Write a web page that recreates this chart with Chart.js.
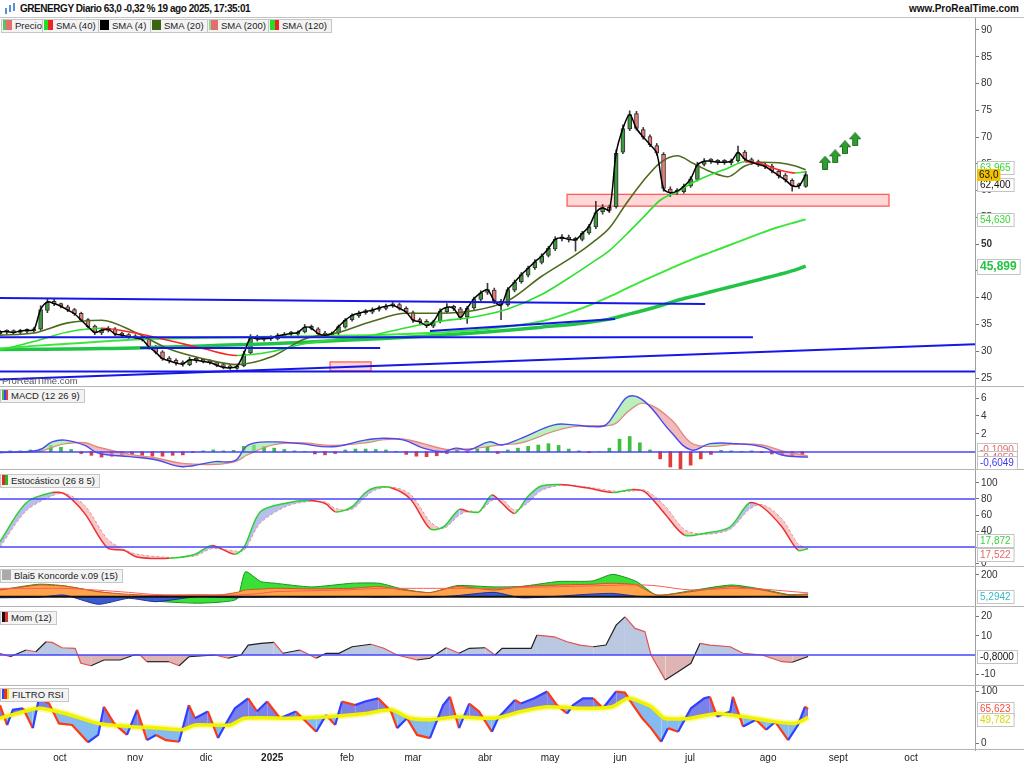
<!DOCTYPE html>
<html>
<head>
<meta charset="utf-8">
<script src="https://cdn.jsdelivr.net/npm/chart.js@4.4.1/dist/chart.umd.min.js"></script>
<style>
  body { margin: 0; background: #fff; }
  #wrap { position: relative; width: 1024px; height: 768px; overflow: hidden; font-family: "Liberation Sans", Arial, sans-serif; color: #111; background: #fff; }
  #hdr { position: absolute; left: 0; top: 0; width: 1024px; height: 17px; border-bottom: 1px solid #c4c4c4; }
  #title { position: absolute; left: 20px; top: 3px; font-size: 10px; font-weight: bold; white-space: nowrap; letter-spacing: -0.45px; }
  #site { position: absolute; right: 5px; top: 3px; font-size: 10px; font-weight: bold; }
  #c { position: absolute; left: 0; top: 18px; }
  .lg { position: absolute; height: 12px; line-height: 12px; font-size: 9.5px; border: 1px solid #c6c6c6; background: #f3f3f3; padding: 0 4px 0 1px; white-space: nowrap; color: #222; }
  .ic { display: inline-block; width: 9px; height: 10px; vertical-align: -1px; margin-right: 3px; }
  #wm { position: absolute; left: 2px; top: 375px; font-size: 9.5px; color: #555; }
</style>
</head>
<body>
<div id="wrap">
  <div id="hdr">
    <svg style="position:absolute;left:4px;top:3px" width="12" height="12">
      <rect x="1" y="5" width="2" height="6" fill="#5b8fd8"/><rect x="5" y="2" width="2" height="7" fill="#5b8fd8"/><rect x="9" y="0" width="2" height="8" fill="#5b8fd8"/>
    </svg>
    <span id="title">GRENERGY Diario 63,0 -0,32 % 19 ago 2025, 17:35:01</span>
    <span id="site">www.ProRealTime.com</span>
  </div>
  <canvas id="c" width="1024" height="750"></canvas>

  <div class="lg" style="left:1px;top:19px"><i class="ic" style="background:linear-gradient(90deg,#5cc25c 30%,#e07070 30%)"></i>Precio</div>
  <div class="lg" style="left:42px;top:19px"><i class="ic" style="background:linear-gradient(90deg,#22dd22 50%,#ee2222 50%)"></i>SMA (40)</div>
  <div class="lg" style="left:98px;top:19px"><i class="ic" style="background:#000"></i>SMA (4)</div>
  <div class="lg" style="left:150px;top:19px"><i class="ic" style="background:#3a6410"></i>SMA (20)</div>
  <div class="lg" style="left:207px;top:19px"><i class="ic" style="background:linear-gradient(90deg,#8fd88f 25%,#e07070 25%)"></i>SMA (200)</div>
  <div class="lg" style="left:268px;top:19px"><i class="ic" style="background:linear-gradient(90deg,#22dd22 50%,#ee2222 50%)"></i>SMA (120)</div>

  <div class="lg" style="left:0;top:389px"><i class="ic" style="width:6px;background:linear-gradient(90deg,#44bb44 33%,#4444ee 33%,#4444ee 66%,#dd4444 66%)"></i>MACD (12 26 9)</div>
  <div class="lg" style="left:0;top:474px"><i class="ic" style="width:6px;background:linear-gradient(90deg,#ee2222 50%,#22bb22 50%)"></i>Estocástico (26 8 5)</div>
  <div class="lg" style="left:0;top:569px"><i class="ic" style="background:#aaa"></i>Blai5 Koncorde v.09 (15)</div>
  <div class="lg" style="left:0;top:611px"><i class="ic" style="width:6px;background:linear-gradient(90deg,#111 50%,#dd3333 50%)"></i>Mom (12)</div>
  <div class="lg" style="left:0;top:688px"><i class="ic" style="width:7px;background:linear-gradient(90deg,#3344ee 33%,#ee3322 33%,#ee3322 66%,#eedd00 66%)"></i>FILTRO RSI</div>
  <div id="wm">ProRealTime.com</div>
</div>

<script>
const FONT = '"Liberation Sans", Arial, sans-serif';
Chart.defaults.font.family = FONT;

// x axis = trading day index (0 = first bar on screen, mid sept 2024)
const monthTickDays = [17.7, 39.9, 60.9, 80.4, 102.5, 122, 143.3, 162.5, 183.2, 203.8, 226.9, 247.6, 269.1];
const monthTickLabels = ['oct', 'nov', 'dic', '2025', 'feb', 'mar', 'abr', 'may', 'jun', 'jul', 'ago', 'sept', 'oct'];

// price bars, one every 2 trading days
const priceOpen = [
  33.3, 33.6, 33.8, 33.5, 33.7, 33.8, 34.1, 37.6, 39.3, 38.9,
  38.3, 37.8, 37.1, 35.9, 34.7, 33.4, 33.9, 34.2, 33.3, 33.1,
  32.8, 32.6, 32.3, 30.9, 29.9, 28.7, 28.3, 27.9, 27.5, 28.5,
  28.3, 28.0, 27.9, 27.5, 27.1, 26.8, 27.3, 29.7, 32.6, 32.2,
  32.5, 32.3, 32.8, 33.2, 33.2, 33.6, 34.6, 34.2, 33.4, 32.9,
  33.4, 34.5, 35.9, 36.6, 37.2, 37.3, 37.8, 38.0, 38.5, 38.7,
  38.0, 37.2, 35.9, 35.6, 34.7, 35.6, 37.4, 38.3, 37.9, 36.4,
  38.1, 39.7, 41.0, 41.4, 39.3, 38.7, 41.4, 43.0, 44.2, 45.6,
  46.6, 47.9, 49.1, 51.0, 51.3, 50.7, 50.9, 52.1, 53.2, 56.0,
  56.9, 57.0, 67.2, 71.5, 74.4, 71.4, 70.1, 68.4, 66.8, 60.3,
  59.7, 59.8, 60.9, 62.1, 64.9, 65.6, 65.4, 65.4, 65.2, 65.6,
  67.2, 65.8, 65.4, 64.8, 64.6, 63.6, 62.9, 61.9, 61.0, 60.8
];
const priceHigh = [
  33.9, 34.0, 34.0, 34.1, 34.2, 34.4, 38.5, 39.8, 39.7, 39.0,
  38.6, 38.0, 37.3, 36.1, 34.9, 34.3, 34.6, 34.4, 33.6, 33.3,
  33.1, 32.9, 32.5, 31.1, 30.1, 29.0, 28.6, 28.2, 28.9, 28.9,
  28.6, 28.4, 28.1, 27.7, 27.4, 27.6, 30.0, 33.1, 33.0, 32.8,
  32.9, 33.3, 33.5, 33.7, 33.8, 35.0, 34.9, 34.4, 33.7, 33.6,
  34.9, 36.1, 37.0, 37.5, 37.8, 38.1, 38.5, 38.8, 39.1, 39.0,
  38.3, 37.5, 36.2, 35.9, 35.8, 37.9, 38.9, 38.6, 38.2, 38.4,
  40.1, 41.3, 42.7, 41.8, 39.7, 41.9, 43.3, 44.7, 45.9, 47.1,
  48.2, 49.6, 51.4, 51.8, 51.7, 51.3, 52.4, 53.7, 58.0, 57.4,
  57.3, 67.6, 72.3, 74.9, 74.8, 71.8, 70.4, 68.8, 67.1, 60.7,
  60.4, 61.2, 62.6, 65.3, 66.0, 66.0, 65.8, 65.8, 65.9, 68.3,
  67.5, 66.1, 65.7, 65.2, 64.9, 63.9, 63.2, 62.2, 61.4, 63.6
];
const priceLow = [
  33.0, 33.2, 33.2, 33.2, 33.4, 33.5, 33.9, 37.2, 38.5, 38.1,
  37.4, 36.7, 35.5, 34.3, 33.1, 33.1, 33.6, 32.9, 32.7, 32.4,
  32.2, 31.9, 30.4, 29.5, 28.3, 27.8, 27.4, 27.2, 27.3, 27.9,
  27.8, 27.6, 27.1, 26.7, 26.6, 26.6, 27.1, 29.4, 31.9, 31.9,
  32.0, 32.1, 32.5, 32.9, 32.9, 33.4, 34.0, 33.0, 32.7, 32.6,
  33.1, 34.3, 35.6, 36.3, 36.9, 37.0, 37.5, 37.7, 38.2, 37.7,
  37.0, 35.4, 35.1, 34.4, 34.4, 35.3, 37.1, 37.6, 35.9, 35.2,
  37.8, 39.4, 40.6, 38.9, 35.9, 38.4, 41.1, 42.7, 43.9, 45.3,
  46.3, 47.6, 48.8, 50.6, 50.4, 48.7, 50.6, 51.8, 52.9, 55.6,
  55.9, 56.7, 66.9, 71.2, 71.3, 69.6, 68.2, 66.6, 59.9, 58.9,
  59.3, 59.5, 60.6, 61.8, 64.6, 65.1, 64.9, 64.9, 64.8, 65.3,
  65.6, 64.9, 64.5, 64.1, 63.3, 62.3, 61.6, 59.9, 60.4, 60.6
];
const priceClose = [
  33.6, 33.7, 33.5, 33.8, 33.9, 34.0, 37.8, 39.2, 38.9, 38.4,
  37.7, 37.0, 35.8, 34.6, 33.5, 33.9, 34.1, 33.2, 33.0, 32.7,
  32.5, 32.2, 30.8, 29.8, 28.6, 28.2, 27.8, 27.6, 28.4, 28.3,
  28.1, 27.9, 27.4, 27.0, 26.9, 27.2, 29.5, 32.5, 32.3, 32.4,
  32.4, 32.9, 33.1, 33.3, 33.5, 34.5, 34.3, 33.3, 33.0, 33.3,
  34.6, 35.8, 36.7, 37.1, 37.4, 37.7, 38.1, 38.4, 38.6, 38.0,
  37.3, 35.8, 35.5, 34.8, 35.5, 37.5, 38.2, 38.0, 36.3, 38.0,
  39.8, 40.9, 41.5, 39.4, 38.6, 41.5, 42.9, 44.3, 45.5, 46.7,
  47.8, 49.2, 50.9, 51.2, 50.9, 50.8, 52.0, 53.3, 55.9, 56.8,
  56.3, 67.0, 71.6, 74.2, 71.6, 70.0, 68.6, 67.0, 60.4, 59.6,
  59.9, 60.8, 62.2, 64.8, 65.5, 65.5, 65.3, 65.3, 65.5, 67.1,
  65.9, 65.3, 64.9, 64.5, 63.7, 62.8, 62.0, 60.9, 60.9, 63.0
];
const priceDays = priceClose.map((_, i) => i * 2);

// moving averages read at these days
const maDays = [0, 10, 20, 30, 40, 50, 60, 70, 80, 90, 100, 110, 120, 130, 140, 150, 160, 170, 175, 180, 185, 190, 195, 200, 205, 210, 215, 220, 225, 230, 235, 238];
const sma20 = [33.0, 33.4, 35.3, 35.8, 33.5, 30.4, 28.6, 27.5, 28.9, 32.3, 33.5, 35.6, 37.1, 37.1, 37.6, 39.4, 44.0, 48.0, 50.3, 53.0, 57.6, 61.8, 65.2, 66.5, 65.0, 63.5, 62.6, 64.6, 65.3, 65.2, 64.6, 63.9];
const sma40 = [30.2, 31.8, 33.6, 34.3, 33.4, 32.0, 30.5, 29.2, 29.9, 31.4, 32.3, 33.0, 34.4, 35.6, 36.4, 37.9, 40.6, 44.5, 46.6, 48.8, 51.8, 55.0, 58.2, 59.8, 61.6, 63.0, 64.2, 65.4, 65.0, 63.9, 63.3, 63.5];
const sma120 = [30.5, 31.0, 31.4, 31.8, 32.2, 32.4, 32.5, 32.6, 32.7, 32.8, 32.9, 33.0, 33.2, 33.5, 33.9, 34.6, 35.6, 37.6, 38.8, 40.2, 41.7, 43.2, 44.6, 46.0, 47.3, 48.5, 49.7, 50.9, 52.1, 53.2, 54.1, 54.63];
const sma200 = [30.3, 30.35, 30.4, 30.5, 30.6, 30.8, 31.0, 31.2, 31.4, 31.7, 32.0, 32.3, 32.6, 33.0, 33.4, 33.9, 34.5, 35.1, 35.5, 36.0, 36.8, 37.6, 38.5, 39.5, 40.3, 41.1, 41.9, 42.7, 43.5, 44.3, 45.2, 45.9];

// drawn trend lines, support zones and arrows
const trendStartDay = [0, 0, 41.4, 0, 0, 127];
const trendStartPrice = [39.95, 32.6, 30.6, 26.2, 24.7, 33.8];
const trendEndDay = [208.3, 222.4, 112.3, 288, 288, 181.7];
const trendEndPrice = [38.8, 32.6, 30.6, 26.2, 31.3, 36.0];
const zoneStartDay = [97.5, 167.5];
const zoneEndDay = [109.6, 262.6];
const zoneHigh = [28.0, 59.3];
const zoneLow = [26.3, 57.1];
const arrowDays = [243.7, 246.7, 249.6, 252.6];
const arrowPrices = [65.2, 66.4, 68.1, 69.6];

// MACD (12 26 9)
const macdDays = [0, 11.5, 15.4, 19.2, 25.1, 29, 38.4, 46, 53.8, 63.5, 69.4, 73.3, 80.9, 88.6, 98.1, 107.8, 113.4, 119.3, 125, 130.9, 134.7, 138.6, 144.5, 148.3, 153.9, 163.7, 169.3, 175.2, 179, 182, 185.8, 190.5, 198.2, 204.1, 209.7, 217.4, 225.1, 231, 238.7];
const macdLine = [-0.1, 0.2, 1.1, 1.3, 0.7, -0.15, -0.55, -0.9, -1.67, -1.1, -1.0, 0.75, 1.1, 0.9, 0.55, 1.3, 1.5, 1.3, 0.4, 0.0, 0.4, 0.2, 1.1, 0.75, 1.5, 3.0, 3.0, 2.8, 3.0, 4.5, 6.2, 5.6, 2.2, 0.2, 0.9, 0.9, 0.55, -0.37, -0.6];
const macdSignal = [-0.1, 0.05, 0.5, 0.9, 1.0, 0.5, -0.3, -0.7, -1.3, -1.4, -1.1, -0.3, 0.8, 1.0, 0.7, 1.0, 1.35, 1.4, 0.9, 0.3, 0.25, 0.3, 0.6, 0.8, 1.0, 2.3, 2.8, 2.9, 2.9, 3.2, 4.6, 5.4, 3.6, 1.0, 0.6, 0.85, 0.75, 0.1, -0.49];
const macdHist = [
  0.05, 0.1, 0.1, 0.2, 0.3, 0.7, 0.5, 0.25, -0.2, -0.4,
  -0.6, -0.5, -0.35, -0.3, -0.4, -0.5, -0.5, -0.4, -0.35, -0.1,
  0.1, 0.2, 0.1, 0.15, 0.6, 0.75, 0.6, 0.4, 0.25, 0.1,
  0.05, -0.25, -0.35, -0.2, 0.2, 0.3, 0.3, 0.25, 0.2, 0.05,
  -0.3, -0.5, -0.55, -0.45, -0.2, 0.15, -0.1, 0.3, 0.5, -0.2,
  0.2, 0.4, 0.6, 0.75, 0.9, 0.7, 0.3, 0.1, -0.1, 0.0,
  0.4, 1.4, 1.7, 1.0, 0.2, -0.8, -1.7, -1.9, -1.5, -0.8,
  -0.3, 0.15, 0.1, 0.05, 0.1, -0.1, -0.25, -0.35, -0.45, -0.3
];
const histDays = macdHist.map((_, i) => i * 3);

// Estocástico (26 8 5)
const stochDays = [0, 7.7, 15.4, 19.2, 25, 31.7, 36.6, 40.4, 50, 57.7, 62.6, 69.2, 72.1, 76.9, 84.7, 91.4, 96.2, 99.1, 103.9, 107.8, 110.7, 115.5, 121.2, 127, 130.9, 135.7, 138.6, 141.5, 145.3, 148.2, 152, 155.9, 159.7, 165.5, 173.2, 180.9, 186.7, 190.5, 196.3, 202.1, 207.9, 215.6, 221.3, 225.2, 231, 235.7, 238.7];
const stochK = [26.6, 75, 88, 86, 62, 19, 16, 7.5, 6, 11, 22, 11, 20, 64, 75, 78, 74, 64, 70, 87.5, 94, 94, 80, 43, 45, 67, 64, 64, 85, 75, 62, 83, 96, 98, 94, 88, 92, 89, 62, 35, 37, 45, 75, 70, 45, 16, 17.9];
const stochD = [20, 65, 84, 87, 72, 30, 17, 11, 7, 9, 18, 15, 16, 50, 71, 77, 76, 68, 67, 82, 91, 95, 86, 52, 43, 60, 65, 64, 78, 80, 66, 75, 90, 97, 95, 90, 90, 91, 72, 42, 36, 42, 67, 73, 55, 24, 17.5];

// Blai5 Koncorde v.09 (15)
const koncDays = [0, 11.5, 19, 29, 38, 46, 58, 65, 70, 72.5, 77, 81, 92, 104, 112, 119, 127, 135, 146, 154, 165, 175, 181, 188, 194, 204, 216, 225, 233, 238.7];
const koncGreen = [62, 115, 100, 46, 10, -40, -60, -50, -20, 230, 140, 125, 90, 124, 124, 70, 38, 102, 90, 95, 140, 145, 206, 140, 15, 55, 108, 70, 20, 25];
const koncOrange = [62, 108, 98, 46, 22, 11, 17, 17, 40, 62, 70, 78, 72, 78, 93, 62, 38, 93, 62, 93, 108, 115, 124, 108, 15, 46, 93, 62, 15, 22];
const koncBlue = [-10, -5, 15, -70, -15, -46, 0, -5, -10, -5, -5, 0, -5, 0, -5, 0, -5, 10, 40, -10, 5, 25, 30, 5, -5, -5, -5, 0, -5, -3];
const koncRed = [77, 77, 77, 60, 40, 20, 15, 15, 15, 20, 30, 46, 55, 65, 77, 77, 77, 77, 77, 85, 92, 100, 105, 110, 100, 62, 77, 70, 50, 35];

// Mom (12)
const momDays = [0, 3, 7.7, 10.6, 13.6, 15.4, 18.3, 22.2, 23.9, 26.9, 30.7, 35.5, 39.6, 41.4, 43.4, 49.9, 52.9, 55.8, 63.5, 67.4, 71.2, 73.3, 77.1, 80.9, 83.6, 88.6, 93.4, 96.3, 100.1, 104, 109.6, 113.4, 117.3, 123.2, 127, 131.8, 135.6, 138.6, 143.3, 146.2, 148.3, 153.9, 156.9, 158.6, 163.7, 167.5, 171.3, 175.2, 179, 182, 184.6, 187.6, 190.5, 192.3, 196.5, 200.3, 204.1, 206.8, 209.7, 215.7, 219.5, 225.1, 231, 234, 238.7];
const momValues = [0.9, -0.9, 2.6, 1.7, 6.9, 6.6, 3.8, 3.5, -4.3, -5.6, -2.6, -2.6, 0, 0, -3.5, -3.5, -5.6, -0.9, 0, -1.7, 0, 5.2, 6.1, 6.6, 0.9, 2.6, -1.7, 0.9, 0.9, 4.3, 5.6, 3.5, 0, -2.6, -1.7, 3.8, 0.9, 3.5, 3.8, 0, 3.5, 3.5, 3.5, 10.4, 9.5, 6.9, 5.2, 4.3, 5.2, 15.6, 19.9, 13.9, 12.2, 0, -13, -8.7, -4.3, 6.1, 5.2, 4.3, 0.9, 0, -3.5, -3.8, -0.8];

// FILTRO RSI
const rsiDays = [0, 2.1, 3.8, 6.8, 9.7, 11.5, 14.5, 17.4, 21.3, 26, 29, 30.7, 33.7, 37.5, 40.5, 43.4, 46.1, 49, 52.9, 55.8, 57.6, 61.4, 64.4, 66.5, 69.4, 73.3, 75.9, 78.9, 82.7, 87.4, 93.4, 96.3, 99, 101, 104.9, 107.8, 111.7, 115.5, 117.3, 120.2, 123.2, 127, 130.9, 132.9, 135.6, 138.6, 141.5, 145.3, 147.1, 152.1, 153.9, 157.8, 161.6, 164.5, 167.5, 169.3, 172.2, 175.2, 178.1, 182, 184.6, 186.7, 189.7, 192.3, 195.3, 197.3, 200.3, 204.1, 208, 209.7, 211.8, 215.7, 216.5, 219.5, 223.3, 226.3, 229, 232.8, 235.7, 237.8, 238.7];
const rsiValues = [73, 35, 64, 67, 29, 86, 76, 38, 35, 2, 16, 70, 38, 16, 64, 6, 16, 6, 3, 73, 48, 61, 10, 35, 67, 86, 61, 80, 48, 61, 22, 54, 35, 80, 73, 80, 86, 61, 29, 48, 16, 10, 73, 89, 29, 76, 61, 22, 48, 83, 76, 86, 99, 73, 57, 73, 86, 86, 67, 99, 97, 76, 48, 29, 3, 29, 22, 67, 86, 89, 51, 61, 89, 32, 45, 26, 41, 6, 35, 70, 65.6];
const rsiAvgDays = [0, 11.5, 19.2, 29, 38.4, 47.3, 53.8, 57.6, 67.9, 72.1, 85.7, 97.5, 107.8, 115.5, 121.1, 127, 134.7, 146.2, 153.9, 161.6, 171.3, 180.8, 185.5, 192.3, 196.2, 203.8, 211.8, 219.5, 229, 234.9, 238.7];
const rsiAvg = [48, 67, 57, 38, 32, 29, 26, 35, 35, 48, 48, 51, 57, 64, 48, 45, 51, 48, 61, 70, 67, 70, 86, 70, 48, 48, 57, 51, 41, 38, 49.8];

// last-value tags on the right axis
const mainTagValues = [63.965, 62.4, 63.0, 54.63, 45.899];
const mainTagTexts = ['63,965', '62,400', '63,0', '54,630', '45,899'];
const macdTagValues = [-0.109, -0.4959, -0.6049];
const macdTagTexts = ['-0,1090', '-0,4959', '-0,6049'];
const stochTagValues = [17.872, 17.522];
const stochTagTexts = ['17,872', '17,522'];
const koncTagValues = [5.2942];
const koncTagTexts = ['5,2942'];
const momTagValues = [-0.8];
const momTagTexts = ['-0,8000'];
const rsiTagValues = [65.623, 49.782];
const rsiTagTexts = ['65,623', '49,782'];

const pts = (xs, ys) => xs.map((x, i) => ({ x, y: ys[i] }));
const upDown = (up, down) => c => c.p1.parsed.y >= c.p0.parsed.y ? up : down;

function arrowIcon() {
    const c = document.createElement('canvas');
    c.width = 12; c.height = 14;
    const g = c.getContext('2d');
    g.beginPath();
    g.moveTo(6, 0.5); g.lineTo(11.5, 6.5); g.lineTo(8.5, 6.5); g.lineTo(8.5, 13.5);
    g.lineTo(3.5, 13.5); g.lineTo(3.5, 6.5); g.lineTo(0.5, 6.5); g.closePath();
    g.fillStyle = '#2f9d2f'; g.fill();
    g.strokeStyle = '#1f6f1f'; g.lineWidth = 1; g.stroke();
    return c;
}

const datasets = [];
const add = ds => { datasets.push(ds); return datasets.length - 1; };
const line = (data, yAxisID, color, width, extra) => Object.assign({
    type: 'line', data, yAxisID, borderColor: color, borderWidth: width,
    pointRadius: 0, fill: false, tension: 0.3
}, extra || {});

// price panel
add({
    type: 'bar', yAxisID: 'yMain', grouped: false, order: 21,
    data: priceDays.map((d, i) => ({ x: d, y: [priceLow[i], priceHigh[i]] })),
    backgroundColor: '#3b3b3b', barThickness: 1
});
add({
    type: 'bar', yAxisID: 'yMain', grouped: false, order: 20,
    data: priceDays.map((d, i) => ({ x: d, y: [priceOpen[i], priceClose[i]] })),
    backgroundColor: c => priceClose[c.dataIndex] >= priceOpen[c.dataIndex] ? '#3c9a3c' : '#e47c7c',
    borderColor: '#333', borderWidth: 1, borderSkipped: false, barThickness: 4, minBarLength: 2
});
add(line(pts(maDays, sma200), 'yMain', '#22c447', 3.5, { order: 14, cubicInterpolationMode: 'monotone' }));
add(line(pts(maDays, sma120), 'yMain', '#3ce63c', 2, { order: 13, cubicInterpolationMode: 'monotone' }));
add(line(pts(maDays, sma20), 'yMain', '#4e6a1c', 1.6, { order: 12, cubicInterpolationMode: 'monotone' }));
add(line(pts(maDays, sma40), 'yMain', '#2ee02e', 1.6, { order: 11, cubicInterpolationMode: 'monotone', segment: { borderColor: upDown('#2ee02e', '#ff2323') } }));
add(line(pts(priceDays, priceClose), 'yMain', '#000', 1.5, { order: 10 }));
trendStartDay.forEach((d, i) => {
    add(line([{ x: d, y: trendStartPrice[i] }, { x: trendEndDay[i], y: trendEndPrice[i] }], 'yMain', '#1616e8', 2, { order: 5, tension: 0 }));
});
add({
    type: 'scatter', yAxisID: 'yMain', order: 4, data: pts(arrowDays, arrowPrices),
    pointStyle: arrowIcon(), pointRadius: 7
});

// MACD panel
add({
    type: 'bar', yAxisID: 'yMacd', grouped: false, order: 34, barThickness: 3,
    data: pts(histDays, macdHist),
    backgroundColor: c => macdHist[c.dataIndex] >= 0 ? '#3cbf3c' : '#e03c3c'
});
const sigIdx = add(line(pts(macdDays, macdSignal), 'yMacd', '#e67a7a', 1.4, { order: 31, tension: 0.4 }));
add(line(pts(macdDays, macdLine), 'yMacd', '#4a4af0', 1.4, {
    order: 30, tension: 0.4,
    fill: { target: sigIdx, above: 'rgba(150,230,150,0.65)', below: 'rgba(235,150,150,0.65)' }
}));

// Estocástico panel
const dIdx = add(line(pts(stochDays, stochD), 'yStoch', '#e58080', 1, { order: 41, borderDash: [3, 2] }));
add(line(pts(stochDays, stochK), 'yStoch', '#2ed02e', 1.5, {
    order: 40, segment: { borderColor: upDown('#2ed02e', '#ee3030') },
    fill: { target: dIdx, above: 'rgba(165,175,235,0.8)', below: 'rgba(245,185,185,0.8)' }
}));

// Koncorde panel
add(line(pts(koncDays, koncGreen), 'yKonc', '#1f8f1f', 1, { order: 54, fill: { value: 0 }, backgroundColor: '#38e038', tension: 0.2 }));
add(line(pts(koncDays, koncOrange), 'yKonc', '#d2521a', 1, { order: 53, fill: { value: 0 }, backgroundColor: '#ffa34a', tension: 0.2 }));
add(line(pts(koncDays, koncBlue), 'yKonc', '#1c2f9a', 1, { order: 52, fill: { value: 0 }, backgroundColor: '#3b5bd0', tension: 0.2 }));
add(line(pts(koncDays, koncRed), 'yKonc', '#ff5a5a', 1, { order: 51, tension: 0.3 }));

// Mom panel
add(line(pts(momDays, momValues), 'yMom', '#222', 1.2, {
    order: 60, tension: 0, segment: { borderColor: upDown('#222', '#e05050') },
    fill: { target: { value: 0 }, above: 'rgba(150,170,210,0.65)', below: 'rgba(205,140,140,0.65)' }
}));

// FILTRO RSI panel
add(line(pts(rsiAvgDays, rsiAvg), 'yRsi', 'rgba(250,250,140,0.8)', 7, { order: 72, tension: 0.2 }));
const avgIdx = add(line(pts(rsiAvgDays, rsiAvg), 'yRsi', '#f2f200', 3.5, { order: 70, tension: 0.2 }));
add(line(pts(rsiDays, rsiValues), 'yRsi', '#3040ff', 2.2, {
    order: 71, tension: 0, segment: { borderColor: upDown('#3040ff', '#ff3a10') },
    fill: { target: avgIdx, above: 'rgba(110,115,232,0.9)', below: 'rgba(120,180,240,0.9)' }
}));

const panelScale = (min, max, ticks, weight, bold) => ({
    type: 'linear', position: 'right', stack: 'panels', stackWeight: weight, min, max, offset: false,
    afterBuildTicks: s => { s.ticks = ticks.map(v => ({ value: v })); },
    afterFit: s => { s.width = 49; s.paddingTop = 0; s.paddingBottom = 0; },
    grid: { drawOnChartArea: false, tickLength: 4, color: '#777' },
    border: { color: '#a0a0a0' },
    ticks: {
        autoSkip: false, padding: 2, color: '#333',
        font: c => ({ size: 10, weight: c.tick && c.tick.value === bold ? 'bold' : 'normal' }),
        callback: v => String(v)
    }
});

const refAxis = ['yMacd', 'yStoch', 'yStoch', 'yMom'];
const refValue = [0, 80, 20, 0];

function drawTag(ctx, y, text, color, bold, size) {
    size = size || 10;
    ctx.font = (bold ? 'bold ' : '') + size + 'px ' + FONT;
    const w = ctx.measureText(text).width + 6;
    const h = size + 3;
    const top = Math.round(y - h / 2);
    ctx.fillStyle = '#fff';
    ctx.fillRect(977, top, w, h);
    ctx.strokeStyle = '#c4c4c4';
    ctx.lineWidth = 1;
    ctx.strokeRect(977.5, top + 0.5, w, h);
    ctx.fillStyle = color;
    ctx.textBaseline = 'middle';
    ctx.textAlign = 'left';
    ctx.fillText(text, 980, top + h / 2 + 0.5);
}

const decor = {
    id: 'decor',
    beforeDatasetsDraw(ch) {
        const { ctx, scales: { x, yMain } } = ch;
        ctx.save();
        zoneStartDay.forEach((d, i) => {
            const x0 = x.getPixelForValue(d), x1 = x.getPixelForValue(zoneEndDay[i]);
            const y0 = yMain.getPixelForValue(zoneHigh[i]), y1 = yMain.getPixelForValue(zoneLow[i]);
            ctx.fillStyle = 'rgba(255,175,175,0.5)';
            ctx.fillRect(x0, y0, x1 - x0, y1 - y0);
            ctx.strokeStyle = '#ff5c5c';
            ctx.lineWidth = 1.3;
            ctx.strokeRect(x0, y0, x1 - x0, y1 - y0);
        });
        ctx.restore();
    },
    afterDatasetsDraw(ch) {
        const { ctx, chartArea, scales } = ch;
        ctx.save();
        ctx.strokeStyle = 'rgb(70,70,255)';
        ctx.lineWidth = 1.4;
        refAxis.forEach((id, i) => {
            const y = Math.round(scales[id].getPixelForValue(refValue[i]));
            ctx.beginPath(); ctx.moveTo(chartArea.left, y); ctx.lineTo(chartArea.right, y); ctx.stroke();
        });
        const yk = scales.yKonc.getPixelForValue(0);
        ctx.strokeStyle = '#111';
        ctx.lineWidth = 2;
        ctx.beginPath();
        ctx.moveTo(scales.x.getPixelForValue(koncDays[0]), yk);
        ctx.lineTo(scales.x.getPixelForValue(koncDays[koncDays.length - 1]), yk);
        ctx.stroke();
        ctx.restore();
    },
    afterDraw(ch) {
        const { ctx, scales } = ch;
        ctx.save();
        ctx.strokeStyle = '#b4b4b4';
        ctx.lineWidth = 1;
        ['yMain', 'yMacd', 'yStoch', 'yKonc', 'yMom', 'yRsi'].forEach(id => {
            const y = Math.round(scales[id].bottom) - 0.5;
            ctx.beginPath(); ctx.moveTo(0, y); ctx.lineTo(1024, y); ctx.stroke();
        });
        const m = scales.yMain;
        drawTag(ctx, m.getPixelForValue(mainTagValues[0]) - 2, mainTagTexts[0], '#33d833');
        drawTag(ctx, m.getPixelForValue(mainTagValues[1]) + 7, mainTagTexts[1], '#111');
        ctx.font = '10px ' + FONT;
        const yw = ctx.measureText(mainTagTexts[2]).width + 4;
        const yy = Math.round(m.getPixelForValue(mainTagValues[2])) - 6;
        ctx.fillStyle = '#f2c200';
        ctx.fillRect(977, yy, yw, 12);
        ctx.fillStyle = '#111';
        ctx.textBaseline = 'middle';
        ctx.fillText(mainTagTexts[2], 979, yy + 6.5);
        drawTag(ctx, m.getPixelForValue(mainTagValues[3]), mainTagTexts[3], '#33d833');
        drawTag(ctx, m.getPixelForValue(mainTagValues[4]), mainTagTexts[4], '#1fc43f', true, 12);

        const mc = scales.yMacd;
        drawTag(ctx, mc.getPixelForValue(macdTagValues[0]) - 3, macdTagTexts[0], '#e06a6a');
        drawTag(ctx, mc.getPixelForValue(macdTagValues[1]) + 1, macdTagTexts[1], '#e06a6a');
        drawTag(ctx, mc.getPixelForValue(macdTagValues[2]) + 5, macdTagTexts[2], '#3b3bea');
        const st = scales.yStoch;
        drawTag(ctx, st.getPixelForValue(stochTagValues[0]) - 8, stochTagTexts[0], '#3ccf3c');
        drawTag(ctx, st.getPixelForValue(stochTagValues[1]) + 6, stochTagTexts[1], '#e06a6a');
        drawTag(ctx, scales.yKonc.getPixelForValue(koncTagValues[0]), koncTagTexts[0], '#36b8c8');
        drawTag(ctx, scales.yMom.getPixelForValue(momTagValues[0]), momTagTexts[0], '#111');
        drawTag(ctx, scales.yRsi.getPixelForValue(rsiTagValues[0]), rsiTagTexts[0], '#ff4a3a');
        drawTag(ctx, scales.yRsi.getPixelForValue(rsiTagValues[1]) + 2, rsiTagTexts[1], '#d8d800');
        ctx.restore();
    }
};

new Chart(document.getElementById('c'), {
    type: 'bar',
    data: { datasets },
    options: {
        responsive: false, animation: false, devicePixelRatio: 1,
        layout: { padding: 0, autoPadding: false },
        plugins: { legend: { display: false }, tooltip: { enabled: false } },
        scales: {
            x: {
                type: 'linear', position: 'bottom', min: 0, max: 288, offset: false,
                afterBuildTicks: s => { s.ticks = monthTickDays.map(v => ({ value: v })); },
                afterFit: s => { s.height = 18; s.paddingLeft = 0; s.paddingRight = 0; },
                grid: { display: false, drawTicks: false, tickLength: 0 }, border: { display: false },
                ticks: {
                    autoSkip: false, maxRotation: 0, padding: 2, color: '#222',
                    callback: (v, i) => monthTickLabels[i],
                    font: c => ({ size: 10, weight: c.index === 3 ? 'bold' : 'normal' })
                }
            },
            yMain: panelScale(23.319, 92.241, [25, 30, 35, 40, 45, 50, 55, 60, 65, 70, 75, 80, 85, 90], 369, 50),
            yMacd: panelScale(-2.04, 7.23, [2, 4, 6], 83),
            yStoch: panelScale(-5, 116.25, [0, 20, 40, 60, 80, 100], 97),
            yKonc: panelScale(-94.9, 273.7, [200], 40),
            yMom: panelScale(-16.19, 25.07, [-10, 10, 20], 79),
            yRsi: panelScale(-12.8, 109.6, [0, 100], 64)
        }
    },
    plugins: [decor]
});
</script>
</body>
</html>
